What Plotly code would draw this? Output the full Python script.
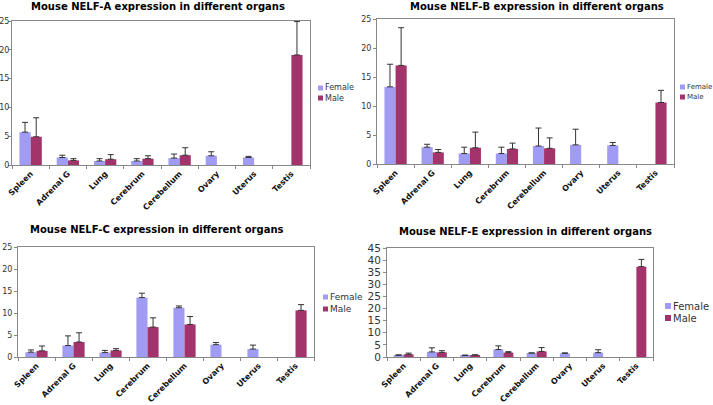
import plotly.graph_objects as go

W, H = 713, 405

organs = ["Spleen", "Adrenal G", "Lung", "Cerebrum", "Cerebellum", "Ovary", "Uterus", "Testis"]

# NELF-A
a_female = [5.7, 1.3, 0.7, 0.7, 1.2, 1.6, 1.3, None]
a_female_err = [1.7, 0.4, 0.4, 0.4, 0.7, 0.7, 0.2, None]
a_male = [4.9, 0.8, 1.0, 1.1, 1.7, None, None, 19.1]
a_male_err = [3.3, 0.3, 0.8, 0.5, 1.3, None, None, 5.8]

# NELF-B
b_female = [13.3, 2.9, 1.8, 1.8, 3.1, 3.3, 3.2, None]
b_female_err = [3.9, 0.5, 1.1, 1.1, 3.1, 2.7, 0.5, None]
b_male = [17.0, 2.0, 2.8, 2.6, 2.7, None, None, 10.6]
b_male_err = [6.5, 0.5, 2.7, 1.0, 1.8, None, None, 2.1]

# NELF-C
c_female = [1.1, 2.6, 1.0, 13.5, 11.2, 2.8, 1.8, None]
c_female_err = [0.5, 2.2, 0.5, 1.0, 0.4, 0.5, 0.9, None]
c_male = [1.4, 3.4, 1.5, 6.8, 7.4, None, None, 10.6]
c_male_err = [1.1, 2.1, 0.4, 2.1, 1.8, None, None, 1.3]

# NELF-E
e_female = [0.7, 2.1, 0.6, 3.1, 1.6, 1.5, 1.8, None]
e_female_err = [0.2, 1.7, 0.2, 1.5, 0.1, 0.2, 1.2, None]
e_male = [1.1, 1.9, 0.8, 1.8, 2.3, None, None, 37.3]
e_male_err = [0.5, 0.7, 0.1, 0.4, 1.6, None, None, 3.0]

titles = ["Mouse NELF-A expression in different organs",
          "Mouse NELF-B expression in different organs",
          "Mouse NELF-C expression in different organs",
          "Mouse NELF-E expression in different organs"]
y_max = [25, 25, 25, 45]

FEMALE = "#A09CF4"
MALE = "#A3346B"
FONT = "DejaVu Sans"

def px(x):
    return x / W

def py(y):
    return 1 - y / H

# panel geometry in pixels: (left, right, top, bottom)
panels = [(12, 310, 21, 165), (377, 674, 19, 164), (18, 314, 247, 357), (387, 653, 248, 357)]
title_pos = [(158, 6), (537, 6), (157, 229), (525, 231)]
legend_pos = [(318, 88, 10, 8), (680, 87, 10, 7), (323, 297, 12, 9), (665, 306, 12, 10)]
tick_sizes = [8, 8, 8, 10.5]
tick_standoff = [-3, 0, 0, 0]
data = [(a_female, a_female_err, a_male, a_male_err),
        (b_female, b_female_err, b_male, b_male_err),
        (c_female, c_female_err, c_male, c_male_err),
        (e_female, e_female_err, e_male, e_male_err)]

fig = go.Figure()
annotations = []
shapes = []
layout_axes = {}

for i, ((fv, fe, mv, me), (l, r, t, b)) in enumerate(zip(data, panels)):
    n = i + 1
    xa = "x" if n == 1 else f"x{n}"
    ya = "y" if n == 1 else f"y{n}"
    for vals, errs, col, name in [(fv, fe, FEMALE, "Female"), (mv, me, MALE, "Male")]:
        fig.add_trace(go.Bar(
            x=organs, y=vals, name=name, marker=dict(color=col, line=dict(width=0)),
            error_y=dict(type="data", array=[e if e is not None else 0 for e in errs],
                         symmetric=False, arrayminus=[0] * len(errs),
                         color="#333333", thickness=1, width=3),
            xaxis=xa, yaxis=ya, showlegend=False))
    xkey = "xaxis" if n == 1 else f"xaxis{n}"
    ykey = "yaxis" if n == 1 else f"yaxis{n}"
    layout_axes[xkey] = dict(
        domain=[px(l), px(r)], anchor=ya, type="category", automargin=False,
        showline=True, linecolor="#888888", linewidth=1, mirror=True,
        ticks="outside", tickson="boundaries", ticklen=3, tickcolor="#888888",
        tickangle=-45, tickfont=dict(family=FONT, size=8, color="#111111", weight="bold"),
        showgrid=False, fixedrange=True)
    layout_axes[ykey] = dict(
        domain=[py(b), py(t)], anchor=xa, range=[0, y_max[i]], dtick=5, automargin=False,
        showline=True, linecolor="#888888", linewidth=1, mirror=True,
        ticks="outside", ticklen=3, tickcolor="#888888", ticklabelstandoff=tick_standoff[i],
        tickfont=dict(family=FONT, size=tick_sizes[i], color="#333333"),
        showgrid=False, zeroline=False, fixedrange=True)
    tx, ty = title_pos[i]
    annotations.append(dict(text=titles[i], x=px(tx), y=py(ty), xref="paper", yref="paper",
                            showarrow=False, xanchor="center", yanchor="middle",
                            font=dict(family=FONT, size=10, color="#000000", weight="bold")))
    lx, ly, gap, fs = legend_pos[i]
    sq = 5 if fs < 10 else 6
    for k, (lab, col) in enumerate([("Female", FEMALE), ("Male", MALE)]):
        yy = ly + k * gap
        shapes.append(dict(type="rect", xref="paper", yref="paper",
                           x0=px(lx), x1=px(lx + sq), y0=py(yy + sq / 2), y1=py(yy - sq / 2),
                           fillcolor=col, line=dict(width=0)))
        annotations.append(dict(text=lab, x=px(lx + sq + 1), y=py(yy), xref="paper", yref="paper",
                                showarrow=False, xanchor="left", yanchor="middle", borderpad=0,
                                font=dict(family=FONT, size=fs, color="#333333")))

fig.update_layout(
    width=W, height=H, margin=dict(l=0, r=0, t=0, b=0),
    paper_bgcolor="white", plot_bgcolor="white",
    barmode="group", bargap=0.4, bargroupgap=0,
    annotations=annotations, shapes=shapes,
    **layout_axes)

fig.write_html("out.html", config={"displayModeBar": False},
               post_script="document.body.style.margin='0';document.body.style.overflow='hidden';")
